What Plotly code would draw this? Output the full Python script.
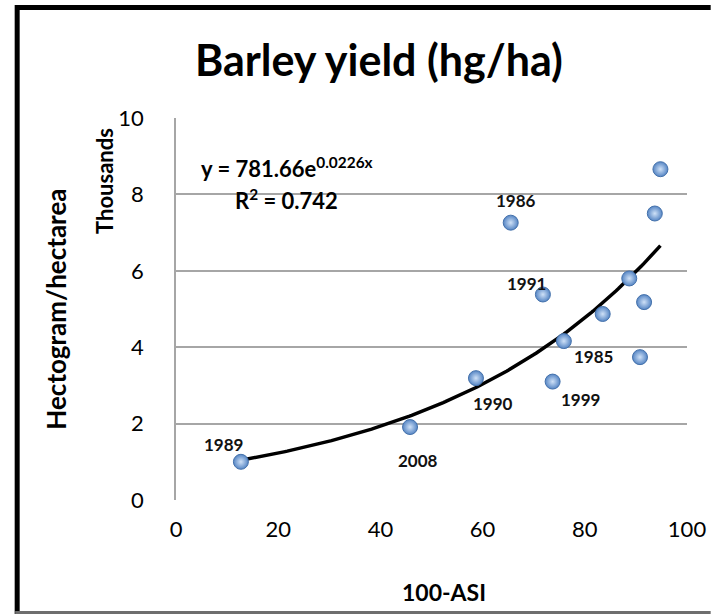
import numpy as np
import plotly.graph_objects as go

# ---- data (100-ASI vs barley yield, thousands of hg/ha) ----
asi = [12.7, 45.8, 58.7, 65.5, 71.8, 73.7, 75.9, 83.5, 88.7, 90.8, 91.6, 93.7, 94.8]
yield_k = [1.00, 1.91, 3.19, 7.26, 5.38, 3.10, 4.16, 4.87, 5.80, 3.74, 5.18, 7.50, 8.66]
year_labels = ["1989", "2008", "1990", "1986", "1991", "1999", "1985", "", "", "", "", "", ""]
# label offsets in px (dx right, dy up)
label_dx = [-17, 8, 17, 5, -16, 28, 30, 0, 0, 0, 0, 0, 0]
label_dy = [17, -33, -25, 22, 11, -18, -15, 0, 0, 0, 0, 0, 0]

# exponential trendline from the chart equation y = 781.66 e^(0.0226x) (hg/ha)
trend_a = 781.66
trend_b = 0.0226
x_ticks = [0, 20, 40, 60, 80, 100]
y_ticks = [0, 2, 4, 6, 8, 10]

W, H = 718, 614
L, R, T, B = 176, 694, 118, 500
FONT = "Lato"


def px(x):
    return (x - L) / (R - L)


def py(y):
    return (B - y) / (B - T)


xt = np.linspace(min(asi), max(asi), 200)
yt = trend_a * np.exp(trend_b * xt) / 1000.0

fig = go.Figure()
fig.add_trace(go.Scatter(x=xt, y=yt, mode="lines",
                         line=dict(color="black", width=3.5),
                         hoverinfo="skip", showlegend=False))
fig.add_trace(go.Scatter(
    x=asi, y=yield_k, mode="markers", showlegend=False,
    marker=dict(size=15, color="#5585c4",
                gradient=dict(type="radial", color="#cfe1f7"),
                line=dict(color="#4471ab", width=1))))

annotations = []
for x, y, t, dx, dy in zip(asi, yield_k, year_labels, label_dx, label_dy):
    if t:
        annotations.append(dict(x=x, y=y, xref="x", yref="y", text="<b>" + t + "</b>",
                                showarrow=False, xshift=dx, yshift=dy,
                                font=dict(family=FONT, size=17, color="#111111")))

annotations += [
    dict(x=px(382), y=py(60), xref="paper", yref="paper", text="<b>Barley yield (hg/ha)</b>",
         showarrow=False, font=dict(family=FONT, size=43, color="black"),
         xanchor="center", yanchor="middle"),
    dict(x=px(54), y=py(309), xref="paper", yref="paper", text="<b>Hectogram/hectarea</b>",
         showarrow=False, textangle=-90, font=dict(family=FONT, size=26, color="black"),
         xanchor="center", yanchor="middle"),
    dict(x=px(103), y=py(181), xref="paper", yref="paper", text="<b>Thousands</b>",
         showarrow=False, textangle=-90, font=dict(family=FONT, size=22, color="black"),
         xanchor="center", yanchor="middle"),
    dict(x=px(448), y=py(592), xref="paper", yref="paper", text="<b>100-ASI</b>",
         showarrow=False, font=dict(family=FONT, size=23, color="black"),
         xanchor="center", yanchor="middle"),
    dict(x=px(289), y=py(167), xref="paper", yref="paper",
         text="<b>y = 781.66e<sup>0.0226x</sup></b>",
         showarrow=False, font=dict(family=FONT, size=22, color="black"),
         xanchor="center", yanchor="middle"),
    dict(x=px(288), y=py(199), xref="paper", yref="paper",
         text="<b>R<sup>2</sup> = 0.742</b>",
         showarrow=False, font=dict(family=FONT, size=22, color="black"),
         xanchor="center", yanchor="middle"),
]

shapes = [
    # outer frame: black left and top, grey bottom
    dict(type="line", xref="paper", yref="paper", x0=px(15), x1=px(15), y0=py(5), y1=py(614),
         line=dict(color="black", width=5)),
    dict(type="line", xref="paper", yref="paper", x0=px(13), x1=px(718), y0=py(7.5), y1=py(7.5),
         line=dict(color="black", width=5)),
    dict(type="line", xref="paper", yref="paper", x0=px(13), x1=px(718), y0=py(612.5), y1=py(612.5),
         line=dict(color="#6e6e6e", width=3)),
]

fig.update_layout(
    width=W, height=H,
    margin=dict(l=L, r=W - R, t=T, b=H - B, pad=0),
    paper_bgcolor="white", plot_bgcolor="white",
    annotations=annotations, shapes=shapes,
    xaxis=dict(range=[0, 100], tickvals=x_ticks, showgrid=False, zeroline=False,
               showline=False, ticks="", ticklabelstandoff=14,
               tickfont=dict(family=FONT, size=22, color="black"), fixedrange=True),
    yaxis=dict(range=[0, 10], tickvals=y_ticks, showgrid=True, gridcolor="#a6a6a6", gridwidth=1.5,
               zeroline=False, showline=True, linecolor="#a6a6a6", linewidth=1.5,
               ticks="", ticklabelstandoff=26,
               tickfont=dict(family=FONT, size=22, color="black"), fixedrange=True),
)

fig.write_html("out.html", config={"displayModeBar": False},
               post_script="document.body.style.margin='0';document.body.style.overflow='hidden';")
